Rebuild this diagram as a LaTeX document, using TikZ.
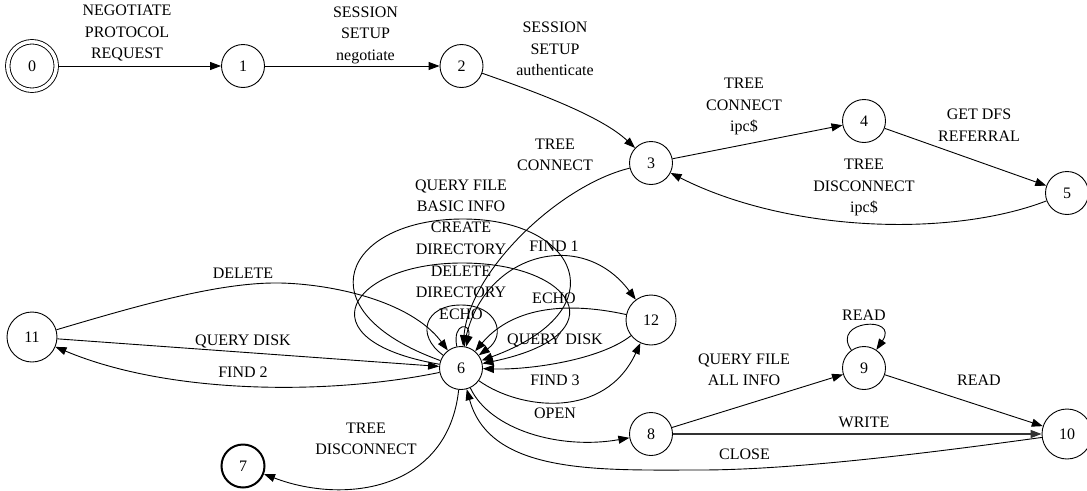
\documentclass[tikz,border=0pt]{standalone}
\usepackage{fontspec}
\setmainfont{Liberation Serif}
\usetikzlibrary{arrows.meta}
\newcommand{\lblfont}{\fontsize{16}{21.5}\selectfont}
\begin{document}
\begin{tikzpicture}[x=1pt,y=-1pt,
  st/.style={circle,draw,line width=0.9pt,minimum size=43pt,inner sep=0pt,font=\lblfont},
  bigst/.style={st,minimum size=50pt},
  lab/.style={align=center,inner sep=0pt,font=\lblfont},
  edge/.style={line width=0.9pt,-{Triangle[length=11pt,width=8pt]}},
]
\useasboundingbox (0,0) rectangle (1087,490);

% states
\node[st,double,double distance=3.5pt,minimum size=48.5pt,outer sep=2.7pt] (n0) at (32,66) {0};
\node[st] (n1) at (243,66) {1};
\node[st] (n2) at (461.5,66) {2};
\node[st] (n3) at (651,163) {3};
\node[st] (n4) at (864,121) {4};
\node[st] (n5) at (1067,193) {5};
\node[st] (n6) at (461,368) {6};
\node[st,line width=2pt] (n7) at (243,466) {7};
\node[st] (n8) at (651,434) {8};
\node[st] (n9) at (864,368) {9};
\node[bigst] (n10) at (1067,434) {10};
\node[bigst] (n11) at (32,337) {11};
\node[bigst] (n12) at (651,320) {12};

% top chain
\draw[edge] (n0) -- (n1);
\node[lab] (l01) at (127,33) {NEGOTIATE\\PROTOCOL\\REQUEST};
\draw[edge] (n1) -- (n2);
\node[lab] (l12) at (365.5,35) {SESSION\\SETUP\\negotiate};
\draw[edge] (n2) .. controls (530,90) and (600,115) .. (n3);
\node[lab] (l23) at (555,49) {SESSION\\SETUP\\authenticate};
\draw[edge] (n3) -- (n4);
\node[lab] (l34) at (744,106.5) {TREE\\CONNECT\\ipc\$};
\draw[edge] (n4) -- (n5);
\node[lab] (l45) at (979,125.3) {GET DFS\\REFERRAL};
\draw[edge] (n5) .. controls (950,238) and (787,232) .. (n3);
\node[lab] (l53) at (864,187.5) {TREE\\DISCONNECT\\ipc\$};
\draw[edge] (n3) .. controls (560,185) and (470,270) .. (n6);
\node[lab] (l36) at (555,155) {TREE\\CONNECT};

% node 11
\draw[edge] (n11) .. controls (140,305) and (220,282) .. (280,283)
  .. controls (330,284) and (410,300) .. (n6);
\node[lab] (l116a) at (243,273) {DELETE};
\draw[edge] (n11) -- (n6);
\node[lab] (l116b) at (243,341.5) {QUERY DISK};
\draw[edge] (n6) .. controls (330,395) and (170,395) .. (n11);
\node[lab] (l611) at (243,372.7) {FIND 2};

% 6 -> 7
\draw[edge] (n6) .. controls (448,490) and (345,505) .. (n7);
\node[lab] (l67) at (366,439) {TREE\\DISCONNECT};

% self loops on 6
\draw[edge] (n6) .. controls (300,310) and (345,219) .. (463,219)
  .. controls (578,219) and (620,310) .. (n6);
\draw[edge] (n6) .. controls (300,340) and (350,263) .. (462,263)
  .. controls (575,263) and (620,335) .. (n6);
\draw[edge] (n6) .. controls (415,335) and (425,305) .. (461,305)
  .. controls (497,305) and (507,335) .. (n6);
\draw[edge] (n6) .. controls (452,322) and (472,322) .. (n6);
\node[lab] (l66a) at (461,196) {QUERY FILE\\BASIC INFO};
\node[lab] (l66b) at (461,238.5) {CREATE\\DIRECTORY};
\node[lab] (l66c) at (461,281.7) {DELETE\\DIRECTORY};
\node[lab] (l66d) at (461,314) {ECHO};

% node 12
\draw[edge] (n6) .. controls (478,255) and (580,225) .. (n12);
\node[lab] (l612a) at (554,246.7) {FIND 1};
\draw[edge] (n12) .. controls (560,300) and (510,310) .. (n6);
\node[lab] (l126a) at (554,298) {ECHO};
\draw[edge] (n12) .. controls (600,360) and (530,370) .. (n6);
\node[lab] (l126b) at (555,340.5) {QUERY DISK};
\draw[edge] (n6) .. controls (520,410) and (605,420) .. (n12);
\node[lab] (l612b) at (555,380.5) {FIND 3};

% file branch
\draw[edge] (n6) .. controls (490,430) and (560,450) .. (n8);
\node[lab] (l68) at (555,413) {OPEN};
\draw[edge] (n8) -- (n9);
\node[lab] (l89) at (744,370) {QUERY FILE\\ALL INFO};
\draw[edge] (n9) .. controls (830,320) and (900,315) .. (n9);
\node[lab] (l99) at (864,315) {READ};
\draw[edge] (n9) -- (n10);
\node[lab] (l910) at (979,380.7) {READ};
\draw[edge,line width=1.2pt,draw=black!80] (n8) -- (n10);
\node[lab] (l810) at (864,422.7) {WRITE};
\draw[edge] (n10) .. controls (950,450) and (800,470) .. (700,470)
  .. controls (600,470) and (490,475) .. (n6);
\node[lab] (l106) at (744.5,454) {CLOSE};
\end{tikzpicture}
\end{document}
